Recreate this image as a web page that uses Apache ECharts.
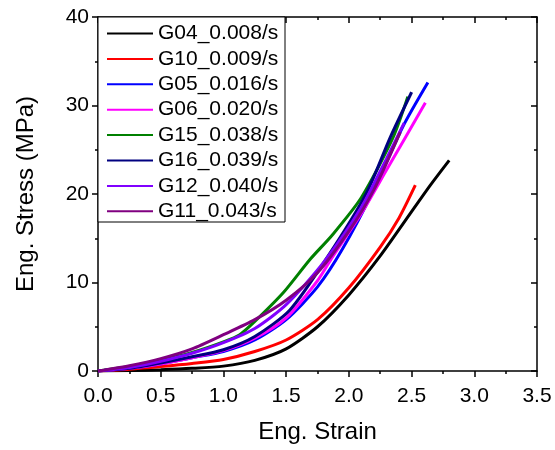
<!DOCTYPE html>
<html>
<head>
<meta charset="utf-8">
<script src="https://cdn.jsdelivr.net/npm/echarts@6/dist/echarts.min.js"></script>
<style>
  html, body { margin: 0; padding: 0; background: #fff; }
  #show { width: 555px; height: 450px; }
</style>
</head>
<body>
<div id="show"></div>
<script>
var names = ['G04_0.008/s', 'G10_0.009/s', 'G05_0.016/s', 'G06_0.020/s',
             'G15_0.038/s', 'G16_0.039/s', 'G12_0.040/s', 'G11_0.043/s'];
var colors = ['#000000', '#ff0000', '#0000ff', '#ff00ff',
              '#008000', '#000080', '#8000ff', '#800080'];

// strain / stress
var g04Strain = [0, 0.25, 0.5, 0.75, 1.0, 1.25, 1.5, 1.75, 2.0, 2.25, 2.5, 2.65, 2.8];
var g04Stress = [0, 0.05, 0.15, 0.3, 0.55, 1.2, 2.5, 5.0, 8.6, 13.0, 18.0, 21.0, 23.8];

var g10Strain = [0, 0.25, 0.5, 0.75, 1.0, 1.25, 1.5, 1.75, 2.0, 2.25, 2.4, 2.53];
var g10Stress = [0, 0.2, 0.5, 0.85, 1.3, 2.2, 3.5, 5.8, 9.4, 14.0, 17.3, 21.0];

var g05Strain = [0, 0.25, 0.5, 0.75, 1.0, 1.25, 1.5, 1.75, 1.95, 2.2, 2.43, 2.63];
var g05Stress = [0, 0.3, 0.8, 1.5, 2.2, 3.5, 5.8, 9.5, 13.8, 20.5, 27.6, 32.6];

var g06Strain = [0, 0.25, 0.5, 0.75, 1.0, 1.25, 1.5, 1.75, 1.87, 2.1, 2.3, 2.61];
var g06Stress = [0, 0.3, 0.8, 1.5, 2.3, 3.7, 6.0, 10.2, 12.9, 17.8, 22.7, 30.3];

var g15Strain = [0, 0.25, 0.5, 0.75, 1.0, 1.13, 1.25, 1.48, 1.69, 1.87, 2.1, 2.35, 2.47];
var g15Stress = [0, 0.5, 1.2, 2.1, 3.3, 4.1, 5.6, 8.9, 12.6, 15.4, 19.6, 26.3, 31.0];

var g16Strain = [0, 0.25, 0.5, 0.75, 1.0, 1.25, 1.53, 1.83, 2.14, 2.33, 2.5];
var g16Stress = [0, 0.3, 0.9, 1.6, 2.4, 3.9, 6.9, 12.9, 20.1, 26.4, 31.5];

var g12Strain = [0, 0.25, 0.5, 0.75, 1.0, 1.25, 1.5, 1.8, 2.1, 2.3, 2.44];
var g12Stress = [0, 0.4, 1.1, 2.0, 3.2, 4.8, 7.5, 12.3, 18.5, 24.0, 28.0];

var g11Strain = [0, 0.25, 0.5, 0.75, 1.0, 1.25, 1.5, 1.75, 2.0, 2.2, 2.41];
var g11Stress = [0, 0.6, 1.4, 2.5, 4.1, 5.8, 8.0, 11.1, 15.8, 20.5, 27.0];

var strains = [g04Strain, g10Strain, g05Strain, g06Strain, g15Strain, g16Strain, g12Strain, g11Strain];
var stresses = [g04Stress, g10Stress, g05Stress, g06Stress, g15Stress, g16Stress, g12Stress, g11Stress];

var font = 'Liberation Sans, Arial, sans-serif';

function pairs(xs, ys) {
    return xs.map(function (x, i) { return [x, ys[i]]; });
}

var series = names.map(function (n, i) {
    return {
        name: n,
        type: 'line',
        symbol: 'none',
        smooth: 0.25,
        data: pairs(strains[i], stresses[i]),
        lineStyle: { color: colors[i], width: 3 },
        itemStyle: { color: colors[i] }
    };
});

var myChart = echarts.init(document.getElementById('show'));

var axisCommon = {
    min: 0,
    axisLine: { show: true, onZero: false, lineStyle: { color: '#000', width: 1.5 } },
    splitLine: { show: false }
};
var tickStyle = { color: '#000', width: 1.5 };

myChart.setOption({
    animation: false,
    textStyle: { fontFamily: font },
    grid: { left: 98, right: 18, top: 17, bottom: 79 },
    legend: {
        orient: 'vertical',
        left: 107,
        top: 23,
        icon: 'rect',
        itemWidth: 46,
        itemHeight: 2,
        itemGap: 4.4,
        padding: 0,
        textStyle: { fontFamily: font, fontSize: 21, color: '#000' },
        data: names
    },
    graphic: [{
        type: 'rect',
        shape: { x: 98, y: 17, width: 187, height: 205 },
        style: { fill: '#fff', stroke: '#000', lineWidth: 1 },
        z: 1
    }],
    xAxis: [
        Object.assign({}, axisCommon, {
            type: 'value', position: 'bottom', max: 3.5, interval: 0.5,
            name: 'Eng. Strain', nameLocation: 'middle', nameGap: 49,
            nameTextStyle: { fontSize: 24, color: '#000', fontFamily: font },
            axisTick: { show: true, inside: false, length: 6, lineStyle: tickStyle },
            minorTick: { show: true, splitNumber: 2, length: 3, lineStyle: tickStyle },
            axisLabel: { fontSize: 21, color: '#000', margin: 15, formatter: function (v) { return v.toFixed(1); } }
        }),
        Object.assign({}, axisCommon, {
            type: 'value', position: 'top', max: 3.5, interval: 0.5,
            axisTick: { show: true, inside: true, length: 6, lineStyle: tickStyle },
            minorTick: { show: true, splitNumber: 2, length: 3, lineStyle: tickStyle },
            axisLabel: { show: false }
        })
    ],
    yAxis: [
        Object.assign({}, axisCommon, {
            type: 'value', position: 'left', max: 40, interval: 10,
            name: 'Eng. Stress (MPa)', nameLocation: 'middle', nameGap: 60,
            nameTextStyle: { fontSize: 24, color: '#000', fontFamily: font },
            axisTick: { show: true, inside: false, length: 6, lineStyle: tickStyle },
            minorTick: { show: true, splitNumber: 2, length: 3, lineStyle: tickStyle },
            axisLabel: { fontSize: 21, color: '#000', margin: 9 }
        }),
        Object.assign({}, axisCommon, {
            type: 'value', position: 'right', max: 40, interval: 10,
            axisTick: { show: true, inside: true, length: 6, lineStyle: tickStyle },
            minorTick: { show: true, splitNumber: 2, length: 3, lineStyle: tickStyle },
            axisLabel: { show: false }
        })
    ],
    series: series
});
</script>
</body>
</html>
